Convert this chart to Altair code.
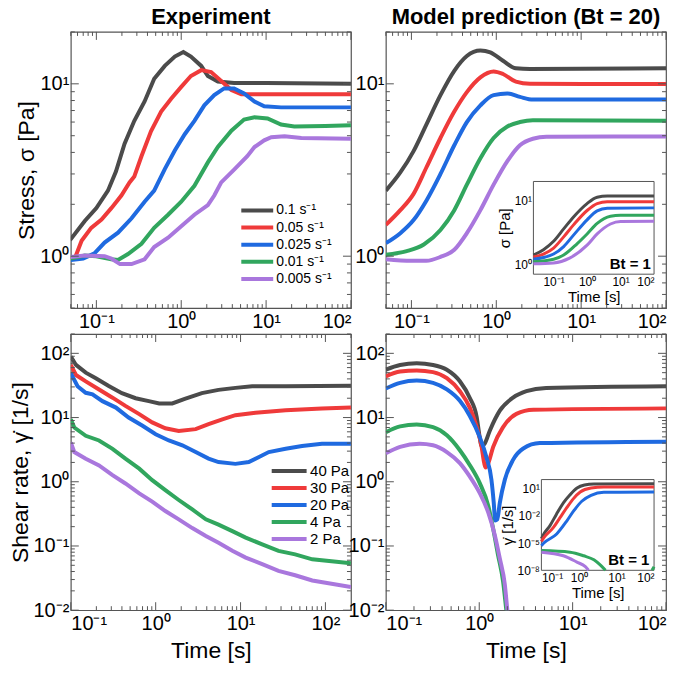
import altair as alt
import pandas as pd

FONT = "Liberation Sans"
FRAME = "#555555"
COLORS = ["#4b4b4b", "#ef3a3a", "#1f6ae0", "#31a65e", "#a977dd"]
RATE_LABELS = ["0.1 s⁻¹", "0.05 s⁻¹", "0.025 s⁻¹", "0.01 s⁻¹", "0.005 s⁻¹"]
STRESS_LABELS = ["40 Pa", "30 Pa", "20 Pa", "4 Pa", "2 Pa"]

# ---------------- Panel A: experiment, stress vs time ----------------
a_t = [
    [0.049, 0.073, 0.1, 0.137, 0.17, 0.215, 0.28, 0.37, 0.48, 0.64, 0.84, 1.06, 1.3, 1.72, 2.06, 2.7, 4.2, 10, 100],
    [0.05, 0.057, 0.067, 0.087, 0.115, 0.15, 0.197, 0.246, 0.28, 0.34, 0.44, 0.58, 0.76, 1.0, 1.3, 1.72, 2.25, 2.96, 3.9, 5.1, 10, 100],
    [0.05, 0.07, 0.095, 0.125, 0.18, 0.26, 0.37, 0.48, 0.64, 0.84, 1.1, 1.43, 1.87, 2.45, 3.2, 4.2, 5.5, 7.3, 9.5, 15, 100],
    [0.05, 0.073, 0.1, 0.15, 0.18, 0.236, 0.34, 0.48, 0.7, 1.0, 1.43, 2.06, 2.7, 3.9, 5.5, 7.3, 10.4, 15, 21.5, 50, 100],
    [0.05, 0.073, 0.125, 0.15, 0.19, 0.26, 0.37, 0.48, 0.7, 1.0, 1.43, 2.06, 2.45, 2.96, 4.2, 6.0, 7.3, 9.5, 11.5, 16.5, 26, 100],
]
a_v = [
    [1.24, 1.6, 1.9, 2.4, 3.1, 4.5, 6.1, 7.9, 10.7, 12.7, 14.4, 15.3, 14.4, 12.7, 11.1, 10.3, 10.1, 10.1, 10.0],
    [0.97, 1.0, 1.23, 1.46, 1.63, 1.9, 2.25, 2.68, 2.9, 3.8, 5.3, 6.9, 8.2, 9.6, 11.1, 12.0, 11.7, 10.4, 9.2, 8.7, 8.7, 8.7],
    [0.95, 0.97, 1.04, 1.2, 1.37, 1.66, 2.07, 2.4, 3.2, 4.1, 5.1, 6.1, 7.5, 8.6, 9.4, 9.4, 8.8, 7.9, 7.4, 7.3, 7.3],
    [0.97, 1.01, 1.0, 0.96, 0.95, 1.03, 1.18, 1.46, 1.74, 2.07, 2.56, 3.5, 4.3, 5.35, 6.2, 6.4, 6.3, 5.8, 5.65, 5.7, 5.75],
    [0.99, 1.01, 1.0, 0.97, 0.90, 0.90, 0.96, 1.13, 1.28, 1.49, 1.74, 1.98, 2.25, 2.68, 3.18, 3.8, 4.3, 4.7, 4.9, 4.97, 4.85, 4.8],
]

# ---------------- Panel B: model, stress vs time ----------------
b_t = [
    [0.05, 0.074, 0.106, 0.15, 0.22, 0.32, 0.45, 0.65, 0.85, 1.2, 1.7, 2.5, 100],
    [0.05, 0.074, 0.106, 0.15, 0.22, 0.32, 0.45, 0.65, 0.93, 1.2, 1.7, 2.5, 100],
    [0.05, 0.074, 0.106, 0.15, 0.22, 0.32, 0.45, 0.65, 0.93, 1.35, 1.9, 2.7, 100],
    [0.05, 0.088, 0.14, 0.22, 0.32, 0.45, 0.65, 0.93, 1.35, 1.9, 2.7, 100],
    [0.05, 0.1, 0.15, 0.22, 0.32, 0.45, 0.65, 0.93, 1.35, 1.9, 2.7, 3.9, 100],
]
b_v = [
    [2.4, 3.06, 4.07, 5.8, 8.6, 11.9, 14.5, 15.6, 15.2, 13.6, 12.3, 12.2, 12.3],
    [1.52, 1.85, 2.3, 3.27, 4.85, 6.9, 8.95, 10.9, 11.8, 11.4, 10.3, 10.0, 9.96],
    [1.19, 1.36, 1.62, 2.1, 3.0, 4.4, 6.0, 7.5, 8.6, 8.8, 8.4, 8.1, 8.1],
    [1.02, 1.07, 1.17, 1.42, 1.85, 2.6, 3.7, 4.85, 5.65, 6.0, 6.15, 6.1],
    [0.96, 0.94, 0.94, 0.99, 1.09, 1.36, 1.85, 2.6, 3.56, 4.4, 4.8, 4.93, 4.95],
]
# inset of B (Bt = 1)
ib_t = [
    [0.025, 0.05, 0.1, 0.2, 0.4, 1, 2, 4, 100],
    [0.025, 0.05, 0.1, 0.2, 0.4, 1, 2, 4, 100],
    [0.025, 0.05, 0.1, 0.2, 0.4, 1, 2, 4, 100],
    [0.025, 0.1, 0.2, 0.5, 1, 2, 5, 10, 100],
    [0.025, 0.1, 0.3, 1, 2, 5, 10, 100],
]
ib_v = [
    [1.4, 1.7, 2.3, 3.6, 5.6, 9.0, 11.3, 11.8, 11.8],
    [1.3, 1.45, 1.8, 2.7, 4.2, 7.0, 9.0, 9.6, 9.6],
    [1.2, 1.28, 1.45, 1.9, 2.9, 5.0, 6.9, 7.6, 7.7],
    [1.1, 1.2, 1.4, 2.1, 3.0, 4.4, 5.7, 5.9, 5.9],
    [1.02, 1.05, 1.25, 2.0, 3.0, 4.3, 4.7, 4.75],
]

# ---------------- Panel C: experiment, shear rate vs time ----------------
c_t = [
    [0.1, 0.115, 0.15, 0.197, 0.28, 0.4, 0.58, 0.83, 1.1, 1.57, 2.2, 3.5, 5.5, 8.7, 13.7, 34, 200],
    [0.1, 0.115, 0.15, 0.215, 0.31, 0.44, 0.64, 0.91, 1.3, 1.87, 2.96, 4.2, 6.1, 8.7, 15, 34, 91, 200],
    [0.1, 0.12, 0.15, 0.18, 0.236, 0.34, 0.48, 0.7, 1.0, 1.43, 2.06, 2.96, 4.2, 5.5, 8.7, 12.5, 16.5, 21.5, 34, 53, 91, 200],
    [0.1, 0.11, 0.15, 0.215, 0.31, 0.44, 0.64, 0.91, 1.3, 1.87, 2.7, 3.9, 5.5, 8, 11.5, 18, 28, 44, 70, 200],
    [0.1, 0.11, 0.15, 0.215, 0.31, 0.44, 0.64, 0.91, 1.3, 1.87, 2.7, 3.9, 5.5, 8, 11.5, 18, 28, 44, 70, 200],
]
c_v = [
    [89, 66, 50, 41, 31, 24, 20, 18, 16.6, 16.6, 19.5, 24, 27, 29, 30.7, 30.7, 31.4],
    [66, 46, 36.6, 27.3, 20.4, 15.2, 11.3, 8.4, 6.8, 6.2, 6.6, 7.9, 9.4, 10.9, 11.9, 13, 13.8, 14.3],
    [49, 30.7, 24.3, 23, 18, 14.3, 10, 7.45, 5.5, 4.4, 3.7, 2.9, 2.3, 2.03, 1.9, 2.03, 2.43, 2.9, 3.26, 3.6, 3.9, 3.9],
    [9.4, 7, 5.2, 4.4, 3.26, 2.29, 1.6, 1.06, 0.74, 0.52, 0.37, 0.26, 0.215, 0.17, 0.135, 0.106, 0.084, 0.074, 0.062, 0.054],
    [4.1, 2.9, 2.29, 1.8, 1.27, 0.94, 0.66, 0.49, 0.35, 0.26, 0.19, 0.143, 0.112, 0.084, 0.066, 0.052, 0.041, 0.035, 0.029, 0.023],
]

# ---------------- Panel D: model, shear rate vs time ----------------
d_t = [
    [0.1, 0.142, 0.214, 0.32, 0.45, 0.62, 0.79, 0.94, 1.01, 1.06, 1.14, 1.3, 1.66, 2.3, 3.2, 5.2, 100],
    [0.1, 0.142, 0.214, 0.32, 0.45, 0.62, 0.79, 0.94, 1.06, 1.13, 1.17, 1.25, 1.41, 1.8, 2.5, 3.8, 100],
    [0.1, 0.142, 0.214, 0.32, 0.45, 0.62, 0.79, 1.01, 1.19, 1.35, 1.43, 1.48, 1.56, 1.66, 1.88, 2.3, 2.96, 4.45, 100],
    [0.1, 0.142, 0.214, 0.32, 0.45, 0.62, 0.79, 1.01, 1.25, 1.41, 1.59, 1.8, 1.95, 2.1],
    [0.1, 0.142, 0.23, 0.32, 0.45, 0.62, 0.79, 1.01, 1.25, 1.47, 1.66, 1.88, 2.0, 2.1],
]
d_v = [
    [55.6, 66, 70, 66, 55.6, 36.8, 20.4, 10.1, 5.0, 3.6, 3.9, 6.3, 12.8, 20.4, 25.7, 28.9, 30.8],
    [43.9, 52, 54, 51, 41, 25.7, 14.4, 7.1, 3.5, 1.95, 1.67, 1.95, 3.5, 7.1, 11.4, 13.2, 13.9],
    [28.4, 34.7, 37.7, 34.7, 27.4, 18.2, 10.7, 5.0, 2.46, 1.08, 0.47, 0.25, 0.26, 0.47, 1.08, 2.19, 3.3, 4.0, 4.2],
    [5.9, 7.3, 7.8, 7.1, 5.3, 3.1, 1.83, 0.96, 0.42, 0.185, 0.072, 0.028, 0.01, 0.004],
    [2.77, 3.5, 3.9, 3.7, 2.9, 1.95, 1.21, 0.67, 0.33, 0.146, 0.064, 0.025, 0.01, 0.005],
]
# inset of D (Bt = 1)
id_t = [
    [0.1, 0.116, 0.168, 0.25, 0.385, 0.58, 0.89, 1.4, 2.5, 100],
    [0.1, 0.116, 0.207, 0.313, 0.473, 0.715, 1.08, 2.1, 4.6, 100],
    [0.1, 0.116, 0.255, 0.473, 0.715, 1.19, 2.1, 4.6, 100],
    [0.1, 0.58, 1.33, 2.5, 3.8, 5.1],
    [0.1, 0.385, 0.88, 1.48, 1.8],
]
id_v = [
    [3e-5, 1e-4, 8e-4, 0.0145, 0.27, 2.1, 11.5, 25, 33, 34],
    [1.5e-5, 4e-5, 5e-4, 6.3e-3, 0.079, 0.8, 4.2, 11.5, 14.8, 14.8],
    [5e-6, 1e-5, 1e-4, 2.7e-3, 0.033, 0.41, 1.8, 3.9, 4.2],
    [1.5e-6, 1e-6, 4e-7, 1.45e-7, 3.5e-8, 1e-8],
    [1e-6, 4e-7, 8e-8, 2.5e-8, 1e-8],
]
# small late up-turn of the 4 Pa curve at the right edge of the inset
id_extra_t = [88, 100]
id_extra_v = [1e-8, 2.5e-8]

W, H = 281, 277

LBL = ("'10' + (round(log(datum.value)/LN10) < 0 ? '⁻' : '') + "
       "substring('⁰¹²³⁴⁵⁶⁷⁸⁹', abs(round(log(datum.value)/LN10)), abs(round(log(datum.value)/LN10)) + 1)")


def powers(lo, hi):
    return [10.0 ** k for k in range(-9, 4) if lo * 0.999 <= 10.0 ** k <= hi * 1.001]


def minors(lo, hi):
    return [round(m * 10.0 ** k, 12) for k in range(-9, 4) for m in range(2, 10)
            if lo * 0.999 <= m * 10.0 ** k <= hi * 1.001]


def make_df(labels, ts, vs):
    rows = []
    for name, t, v in zip(labels, ts, vs):
        for i, (a, b) in enumerate(zip(t, v)):
            rows.append({"series": name, "seg": name, "t": a, "v": b, "order": i})
    return pd.DataFrame(rows)


def panel(df, labels, xdom, ydom, interp, title, xtitle, ytitle, legend, inset=None):
    xscale = alt.Scale(type="log", domain=xdom)
    yscale = alt.Scale(type="log", domain=ydom)
    xaxis = alt.Axis(orient="bottom", values=powers(*xdom), labelExpr=LBL, ticks=False, tickSize=0,
                     domain=False, grid=False, labelPadding=3, title=xtitle, titlePadding=6)
    yaxis = alt.Axis(orient="left", values=powers(*ydom), labelExpr=LBL, ticks=False, tickSize=0,
                     domain=False, grid=False, labelPadding=2, title=ytitle, titlePadding=1)

    main = alt.Chart(df).mark_line(strokeWidth=4, clip=True, interpolate=interp).encode(
        x=alt.X("t:Q", scale=xscale, axis=xaxis),
        y=alt.Y("v:Q", scale=yscale, axis=yaxis),
        color=alt.Color("series:N", scale=alt.Scale(domain=labels, range=COLORS), legend=legend),
        detail="seg:N",
        order="order:Q",
    )

    # inward frame ticks on the four edges, sharing the curves' scales (no axes of their own)
    ticks = []
    for vals, ln in ((minors(*xdom), 4), (powers(*xdom), 8)):
        base = alt.Chart(pd.DataFrame({"t": vals})).mark_rule(color=FRAME, strokeWidth=1)
        xe = alt.X("t:Q", scale=xscale, axis=None)
        ticks.append(base.encode(x=xe, y=alt.value(H), y2=alt.value(H - ln)))
        ticks.append(base.encode(x=xe, y=alt.value(0), y2=alt.value(ln)))
    for vals, ln in ((minors(*ydom), 4), (powers(*ydom), 8)):
        base = alt.Chart(pd.DataFrame({"v": vals})).mark_rule(color=FRAME, strokeWidth=1)
        ye = alt.Y("v:Q", scale=yscale, axis=None)
        ticks.append(base.encode(y=ye, x=alt.value(0), x2=alt.value(ln)))
        ticks.append(base.encode(y=ye, x=alt.value(W), x2=alt.value(W - ln)))

    core = alt.layer(main, *ticks).resolve_axis(x="independent", y="independent")

    if inset is None:
        out = core.properties(width=W, height=H)
    else:
        idf, ixdom, iydom, xr, yr, iytitle, bt = inset
        xs = alt.Scale(type="log", domain=ixdom, range=xr)
        ys = alt.Scale(type="log", domain=iydom, range=yr)
        box_df = pd.DataFrame({"x0": [ixdom[0]], "x1": [ixdom[1]], "y0": [iydom[0]], "y1": [iydom[1]]})
        box = alt.Chart(box_df).mark_rect(fill="white", stroke=FRAME, strokeWidth=1).encode(
            x=alt.X("x0:Q", scale=xs,
                    axis=alt.Axis(orient="bottom", offset=-(H - yr[0]), values=powers(*ixdom), labelExpr=LBL,
                                  labelFontSize=12, labelPadding=2, ticks=False, tickSize=0,
                                  domain=False, grid=False, title="Time [s]", titleFontSize=15, titlePadding=2)),
            x2="x1",
            y=alt.Y("y0:Q", scale=ys,
                    axis=alt.Axis(orient="left", offset=-xr[0], values=bt[3], labelExpr=LBL,
                                  labelFontSize=12, labelPadding=2, ticks=False, tickSize=0,
                                  domain=False, grid=False, title=iytitle, titleFontSize=15, titlePadding=2)),
            y2="y1",
        )
        ilines = alt.Chart(idf).mark_line(strokeWidth=3, interpolate="monotone").encode(
            x=alt.X("t:Q", scale=xs, axis=None),
            y=alt.Y("v:Q", scale=ys, axis=None),
            stroke=alt.Stroke("series:N", scale=alt.Scale(domain=labels, range=COLORS), legend=None),
            detail="seg:N",
            order="order:Q",
        )
        txt = alt.Chart(pd.DataFrame({"t": [bt[0]], "v": [bt[1]], "s": [bt[2]]})).mark_text(
            align="right", baseline="middle", fontWeight="bold", fontSize=15, font=FONT, color="black"
        ).encode(
            x=alt.X("t:Q", scale=xs, axis=None),
            y=alt.Y("v:Q", scale=ys, axis=None),
            text="s:N",
        )
        out = alt.layer(core, box, ilines, txt).resolve_scale(x="independent", y="independent").properties(
            width=W, height=H)
    if title:
        out = out.properties(title=alt.Title(title, offset=2))
    return out


df_a = make_df(RATE_LABELS, a_t, a_v)
df_b = make_df(RATE_LABELS, b_t, b_v)
df_ib = make_df(RATE_LABELS, ib_t, ib_v)
df_c = make_df(STRESS_LABELS, c_t, c_v)
df_d = make_df(STRESS_LABELS, d_t, d_v)
df_id = make_df(STRESS_LABELS, id_t, id_v)
extra = pd.DataFrame({"series": STRESS_LABELS[3], "seg": "late", "t": id_extra_t, "v": id_extra_v,
                      "order": list(range(len(id_extra_t)))})
df_id = pd.concat([df_id, extra], ignore_index=True)

legend_a = alt.Legend(orient="none", legendX=192, legendY=172, title=None, symbolType="M-7,0H1",
                      symbolStrokeWidth=4, symbolSize=64, labelFontSize=14, labelOffset=0,
                      rowPadding=1.2, padding=0, labelFont=FONT)
legend_c = alt.Legend(orient="none", legendX=225, legendY=130, title=None, symbolType="M-7.75,0H1",
                      symbolStrokeWidth=4, symbolSize=64, labelFontSize=15, labelOffset=0,
                      rowPadding=0, padding=0, labelFont=FONT)

pA = panel(df_a, RATE_LABELS, [0.05, 100], [0.5, 20], "linear", "Experiment", None, "Stress, σ [Pa]", legend_a)
pB = panel(df_b, RATE_LABELS, [0.05, 100], [0.5, 20], "monotone", "Model prediction (Bt = 20)", None, None, None,
           inset=(df_ib, [0.025, 100], [0.7, 20], [148, 269], [243, 150], "σ [Pa]",
                  (80, 1.0, "Bt = 1", [1, 10])))
pC = panel(df_c, STRESS_LABELS, [0.1, 200], [0.01, 200], "linear", None, "Time [s]", "Shear rate, γ̇ [1/s]", legend_c)
pD = panel(df_d, STRESS_LABELS, [0.1, 100], [0.01, 200], "monotone", None, "Time [s]", None, None,
           inset=(df_id, [0.1, 100], [1e-8, 100], [156, 269], [237, 146], "γ̇ [1/s]",
                  (75, 1.3e-7, "Bt = 1", [1e-8, 1e-5, 1e-2, 10])))

chart = alt.concat(pA, pB, pC, pD, columns=2, spacing={"row": 26, "column": 35}, bounds="flush").resolve_scale(
    color="independent", stroke="independent"
).properties(
    padding={"left": 0, "top": -4, "right": 5, "bottom": 5}
).configure(font=FONT).configure_view(stroke=FRAME, strokeWidth=1.2).configure_axis(
    labelFont=FONT, titleFont=FONT, labelFontSize=20, titleFontSize=23, labelColor="black", titleColor="black",
    titleFontWeight="normal"
).configure_title(font=FONT, fontSize=22, fontWeight="bold", anchor="middle", color="black")

chart.save("out.html", embed_options={"renderer": "svg", "actions": False})
